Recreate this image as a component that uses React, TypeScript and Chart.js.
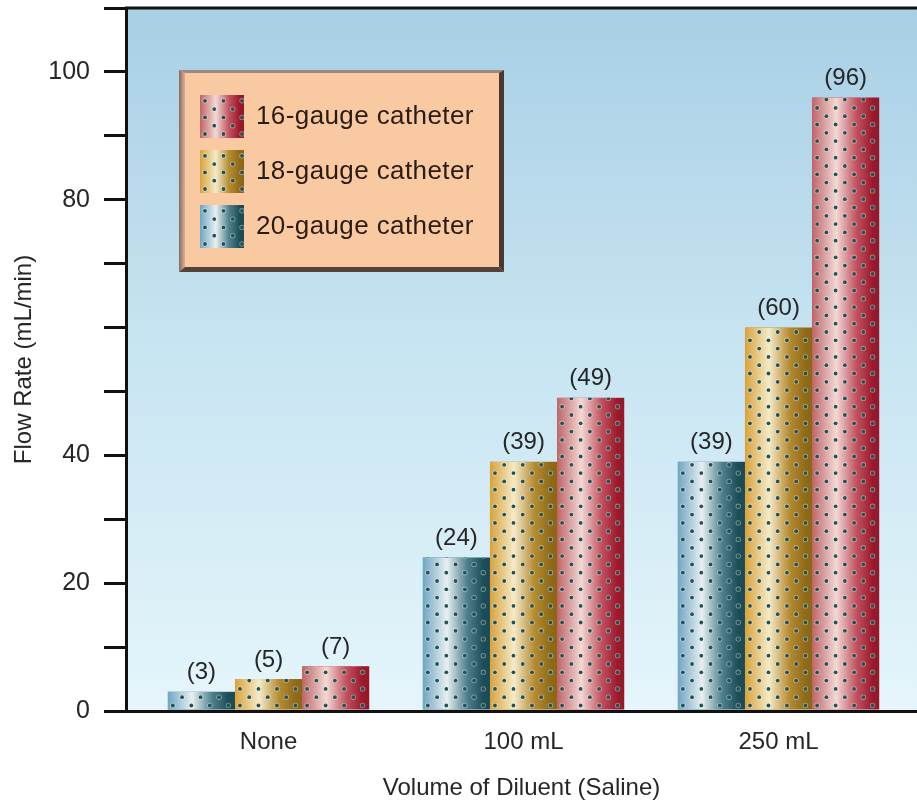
import React, { useEffect, useRef } from 'react';
import { Chart, registerables } from 'chart.js';

Chart.register(...registerables);

// ---- data ----
const CATEGORIES = ['None', '100 mL', '250 mL'];
const SERIES_LABELS = ['20-gauge catheter', '18-gauge catheter', '16-gauge catheter'];
const GAUGE_20 = [3, 24, 39];
const GAUGE_18 = [5, 39, 60];
const GAUGE_16 = [7, 49, 96];
const Y_LABELED_TICKS = [0, 20, 40, 80, 100];
const Y_MAX = 110;
const Y_STEP = 10;
const X_TITLE = 'Volume of Diluent (Saline)';
const Y_TITLE = 'Flow Rate (mL/min)';

// ---- styles ----
const FONT = "'Liberation Sans', Arial, Helvetica, sans-serif";
const TEXT = '#262626';
const AXIS = '#111111';
const STOP_POS = [0, 0.36, 0.66, 0.9, 1];
const SERIES_STOPS = [
  ['#6ea6c2', '#e8eff1', '#4f808d', '#1c4e58', '#1a4a55'],
  ['#d9a23c', '#f4eac8', '#b68c32', '#8f6a18', '#8a6616'],
  ['#bf6567', '#f3d8d4', '#c1525f', '#9a1a2c', '#951728'],
];

function paintBar(ctx: CanvasRenderingContext2D, left: number, top: number, w: number, h: number, stops: string[], base: number) {
  if (h <= 0 || w <= 0) return;
  ctx.save();
  ctx.beginPath();
  ctx.rect(left, top, w, h);
  ctx.clip();
  const g = ctx.createLinearGradient(left, 0, left + w, 0);
  STOP_POS.forEach((p, i) => g.addColorStop(p, stops[i]));
  ctx.fillStyle = g;
  ctx.fillRect(left, top, w, h);
  const dx = 18.5;
  const dy = 8.3;
  let row = 0;
  for (let y = base - 4; y > top - 3; y -= dy, row++) {
    const off = row % 2 ? dx / 2 : 0;
    for (let x = left + 5 + off; x < left + w + 3; x += dx) {
      ctx.beginPath();
      ctx.arc(x, y, 2.7, 0, Math.PI * 2);
      ctx.fillStyle = 'rgba(255,255,255,0.4)';
      ctx.fill();
      ctx.beginPath();
      ctx.arc(x, y, 1.9, 0, Math.PI * 2);
      ctx.fillStyle = '#235356';
      ctx.fill();
    }
  }
  ctx.restore();
}

const bgPlugin = {
  id: 'plotBg',
  beforeDraw(chart: any) {
    const { ctx, chartArea: a } = chart;
    const g = ctx.createLinearGradient(0, a.top, 0, a.bottom);
    g.addColorStop(0, '#a9cfe5');
    g.addColorStop(0.5, '#c8e5f2');
    g.addColorStop(1, '#e5f5fb');
    ctx.save();
    ctx.fillStyle = g;
    ctx.fillRect(a.left, a.top, a.right - a.left, a.bottom - a.top);
    ctx.restore();
  },
};

const barPaintPlugin = {
  id: 'barPaint',
  afterDatasetsDraw(chart: any) {
    const { ctx } = chart;
    chart.data.datasets.forEach((ds: any, di: number) => {
      const meta = chart.getDatasetMeta(di);
      meta.data.forEach((el: any, i: number) => {
        const { x, y, base, width } = el.getProps(['x', 'y', 'base', 'width'], true);
        paintBar(ctx, x - width / 2, y, width, base - y, SERIES_STOPS[di], base);
        const v = ds.data[i].y;
        ctx.save();
        ctx.font = `24px ${FONT}`;
        ctx.fillStyle = TEXT;
        ctx.textAlign = 'center';
        ctx.textBaseline = 'bottom';
        ctx.fillText(`(${v})`, x, y - 7);
        ctx.restore();
      });
    });
  },
};

const frameLegendPlugin = {
  id: 'frameLegend',
  afterDraw(chart: any) {
    const { ctx, chartArea: a } = chart;
    ctx.save();
    ctx.strokeStyle = AXIS;
    ctx.lineWidth = 3;
    ctx.beginPath();
    ctx.moveTo(a.left - 1, a.top);
    ctx.lineTo(a.right, a.top);
    ctx.stroke();
    ctx.restore();

    const x0 = a.left + 53;
    const y0 = a.top + 62;
    const w = 325;
    const h = 202;
    const bl = 6, bt = 3, br = 5, bb = 5;
    ctx.save();
    ctx.fillStyle = '#f9c9a1';
    ctx.fillRect(x0, y0, w, h);
    ctx.fillStyle = '#9a8a84';
    ctx.beginPath();
    ctx.moveTo(x0, y0); ctx.lineTo(x0 + w, y0); ctx.lineTo(x0 + w - br, y0 + bt); ctx.lineTo(x0 + bl, y0 + bt); ctx.closePath();
    ctx.fill();
    const lg = ctx.createLinearGradient(x0, 0, x0 + bl, 0);
    lg.addColorStop(0, '#7f6c64');
    lg.addColorStop(1, '#e0b190');
    ctx.fillStyle = lg;
    ctx.beginPath();
    ctx.moveTo(x0, y0); ctx.lineTo(x0 + bl, y0 + bt); ctx.lineTo(x0 + bl, y0 + h - bb); ctx.lineTo(x0, y0 + h); ctx.closePath();
    ctx.fill();
    ctx.fillStyle = '#4d3830';
    ctx.beginPath();
    ctx.moveTo(x0 + w, y0); ctx.lineTo(x0 + w, y0 + h); ctx.lineTo(x0 + w - br, y0 + h - bb); ctx.lineTo(x0 + w - br, y0 + bt); ctx.closePath();
    ctx.fill();
    ctx.fillStyle = '#54423a';
    ctx.beginPath();
    ctx.moveTo(x0, y0 + h); ctx.lineTo(x0 + w, y0 + h); ctx.lineTo(x0 + w - br, y0 + h - bb); ctx.lineTo(x0 + bl, y0 + h - bb); ctx.closePath();
    ctx.fill();

    const items = chart.data.datasets.map((d: any, i: number) => ({ label: d.label, idx: i })).reverse();
    items.forEach((it: any, k: number) => {
      const sx = x0 + 21;
      const sy = y0 + 25 + k * 55;
      paintBar(ctx, sx, sy, 44, 43, SERIES_STOPS[it.idx], sy + 43);
      ctx.font = `26px ${FONT}`;
      (ctx as any).letterSpacing = '0.4px';
      ctx.fillStyle = '#2a1c14';
      ctx.textAlign = 'left';
      ctx.textBaseline = 'middle';
      ctx.fillText(it.label, x0 + 77, sy + 22);
    });
    ctx.restore();
  },
};

export default function App() {
  const ref = useRef<HTMLCanvasElement | null>(null);

  useEffect(() => {
    if (!ref.current) return;
    const series = [GAUGE_20, GAUGE_18, GAUGE_16];
    const chart = new Chart(ref.current, {
      type: 'bar',
      data: {
        datasets: series.map((vals, di) => ({
          label: SERIES_LABELS[di],
          data: vals.map((v, i) => ({ x: i, y: v })),
          backgroundColor: SERIES_STOPS[di][2],
          borderWidth: 0,
          categoryPercentage: 0.79,
          barPercentage: 1,
        })),
      },
      options: {
        animation: false,
        responsive: false,
        maintainAspectRatio: false,
        devicePixelRatio: 1,
        layout: { padding: { top: 8, right: 0, left: 0, bottom: 0 } },
        plugins: { legend: { display: false }, tooltip: { enabled: false } },
        scales: {
          x: {
            type: 'linear',
            offset: false,
            min: -0.559,
            max: 2.543,
            z: 1,
            afterBuildTicks: (s: any) => {
              s.ticks = CATEGORIES.map((_, i) => ({ value: i }));
            },
            afterFit: (s: any) => {
              s.height = 92;
              s.paddingLeft = 0;
              s.paddingRight = 0;
            },
            ticks: {
              callback: (v: any) => CATEGORIES[Math.round(Number(v))] ?? '',
              font: { family: FONT, size: 24 },
              color: TEXT,
              padding: 17,
              autoSkip: false,
              maxRotation: 0,
            },
            grid: { display: false, drawTicks: false, offset: false },
            border: { display: true, color: AXIS, width: 3 },
            title: {
              display: true,
              text: X_TITLE,
              font: { family: FONT, size: 24 },
              color: TEXT,
              padding: { top: 0, bottom: 0 },
            },
          },
          y: {
            min: 0,
            max: Y_MAX,
            z: 1,
            afterFit: (s: any) => {
              s.width = 126;
              s.paddingTop = 0;
              s.paddingBottom = 0;
            },
            ticks: {
              stepSize: Y_STEP,
              callback: (v: any) => (Y_LABELED_TICKS.includes(Number(v)) ? String(v) : ''),
              font: { family: FONT, size: 25 },
              color: TEXT,
              padding: 14,
            },
            grid: {
              drawOnChartArea: false,
              drawTicks: true,
              tickLength: 22,
              color: AXIS,
              lineWidth: 3,
            },
            border: { display: true, color: AXIS, width: 3 },
            title: {
              display: true,
              text: Y_TITLE,
              font: { family: FONT, size: 24 },
              color: TEXT,
              padding: { top: 10, bottom: 0 },
            },
          },
        },
      },
      plugins: [bgPlugin, barPaintPlugin, frameLegendPlugin],
    } as any);
    return () => chart.destroy();
  }, []);

  return (
    <div style={{ position: 'absolute', left: 0, top: 0, width: 917, height: 803, background: '#ffffff' }}>
      <canvas ref={ref} width={917} height={803} style={{ display: 'block' }} />
    </div>
  );
}
